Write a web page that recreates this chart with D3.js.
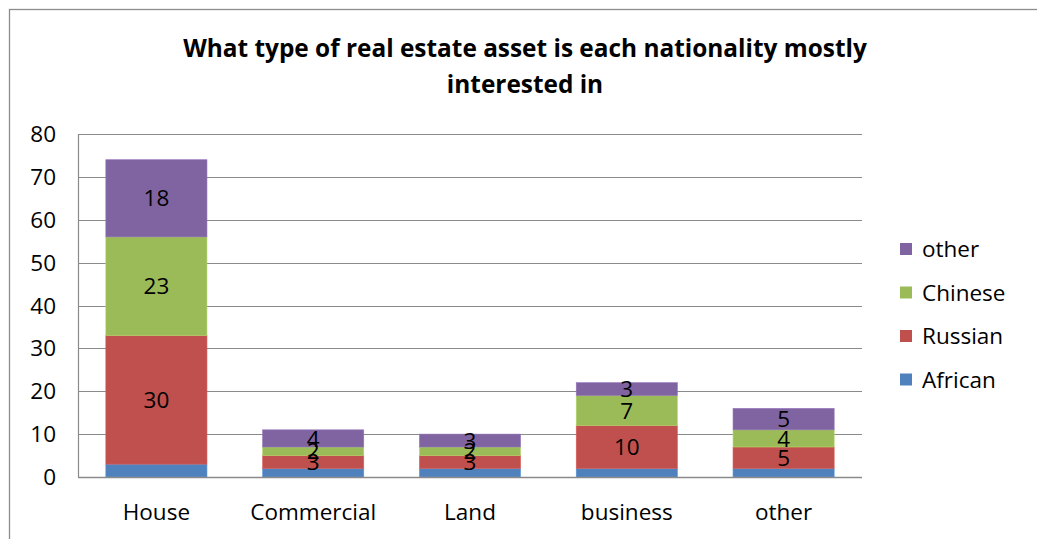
<!DOCTYPE html>
<html><head><meta charset="utf-8">
<script src="https://cdn.jsdelivr.net/npm/d3@7"></script>
<style>body{margin:0;background:#fff}svg{display:block}</style>
</head><body><svg id="c" width="1037" height="539"></svg>
<script>
const categories = ["House", "Commercial", "Land", "business", "other"];
const seriesNames = ["African", "Russian", "Chinese", "other"];
const african = [3, 2, 2, 2, 2];
const russian = [30, 3, 3, 10, 5];
const chinese = [23, 2, 2, 7, 4];
const otherS = [18, 4, 3, 3, 5];
const yTicks = [0, 10, 20, 30, 40, 50, 60, 70, 80];
const colors = ["#4F81BD", "#C0504D", "#9BBB59", "#8064A2"];
const showLabel = [false, true, true, true];
const titleLines = ["What type of real estate asset is each nationality mostly", "interested in"];

const FONT = "'Open Sans', sans-serif";
const FS = 22.5;
const svg = d3.select("#c");
svg.append("rect").attr("x", 9.5).attr("y", 9.5).attr("width", 1100).attr("height", 600)
  .attr("fill", "#fff").attr("stroke", "#8c8c8c").attr("stroke-width", 1.3);

const L = 78, R = 862, T = 134, B = 477;
const x = d3.scaleBand().domain(categories).range([L, R]).paddingInner(0.355).paddingOuter(0.1775);
const y = d3.scaleLinear().domain([0, 80]).range([B, T]);

// gridlines
svg.append("g").selectAll("line").data(yTicks).join("line")
  .attr("x1", L).attr("x2", R).attr("y1", d => Math.round(y(d)) + 0.5).attr("y2", d => Math.round(y(d)) + 0.5)
  .attr("stroke", "#8a8a8a").attr("stroke-width", 1.2);

const rows = categories.map((c, i) => ({cat: c, African: african[i], Russian: russian[i], Chinese: chinese[i], other: otherS[i]}));
const stacked = d3.stack().keys(seriesNames)(rows);

const g = svg.append("g");
stacked.forEach((s, si) => {
  g.append("g").selectAll("rect").data(s).join("rect")
    .attr("x", d => x(d.data.cat)).attr("width", x.bandwidth())
    .attr("y", d => y(d[1])).attr("height", d => y(d[0]) - y(d[1]))
    .attr("fill", colors[si]).attr("stroke", d3.color(colors[si]).brighter(0.4)).attr("stroke-width", 0.6);
});
stacked.forEach((s, si) => {
  if (!showLabel[si]) return;
  g.append("g").selectAll("text").data(s).join("text")
    .attr("x", d => x(d.data.cat) + x.bandwidth() / 2)
    .attr("y", d => y((d[0] + d[1]) / 2))
    .attr("dy", "0.36em").attr("text-anchor", "middle")
    .attr("font-family", FONT).attr("font-size", FS).attr("fill", "#000")
    .text(d => d[1] - d[0]);
});

// axes lines
svg.append("line").attr("x1", L + 0.5).attr("x2", L + 0.5).attr("y1", T).attr("y2", B)
  .attr("stroke", "#8a8a8a").attr("stroke-width", 1.2);
svg.append("line").attr("x1", L).attr("x2", R).attr("y1", B + 0.5).attr("y2", B + 0.5)
  .attr("stroke", "#8a8a8a").attr("stroke-width", 1.4);

// y tick labels
svg.append("g").selectAll("text").data(yTicks).join("text")
  .attr("x", 56).attr("y", d => y(d)).attr("dy", "0.36em").attr("text-anchor", "end")
  .attr("font-family", FONT).attr("font-size", FS).attr("fill", "#000").text(d => d);

// x labels
svg.append("g").selectAll("text").data(categories).join("text")
  .attr("x", d => x(d) + x.bandwidth() / 2).attr("y", 512).attr("dy", "0.36em").attr("text-anchor", "middle")
  .attr("font-family", FONT).attr("font-size", FS).attr("fill", "#000").text(d => d);

// title
svg.append("g").selectAll("text").data(titleLines).join("text")
  .attr("x", 525).attr("y", (d, i) => 48 + i * 36).attr("dy", "0.36em").attr("text-anchor", "middle")
  .attr("font-family", FONT).attr("font-weight", "bold").attr("font-size", 24.4).attr("fill", "#000").text(d => d);

// legend
const legendOrder = [3, 2, 1, 0];
const lg = svg.append("g").selectAll("g").data(legendOrder).join("g")
  .attr("transform", (d, i) => `translate(900, ${249 + i * 43.5})`);
lg.append("rect").attr("x", 0).attr("y", -6).attr("width", 12).attr("height", 12).attr("fill", d => colors[d]);
lg.append("text").attr("x", 22).attr("y", 0).attr("dy", "0.36em")
  .attr("font-family", FONT).attr("font-size", FS).attr("fill", "#000").text(d => seriesNames[d]);
</script></body></html>
